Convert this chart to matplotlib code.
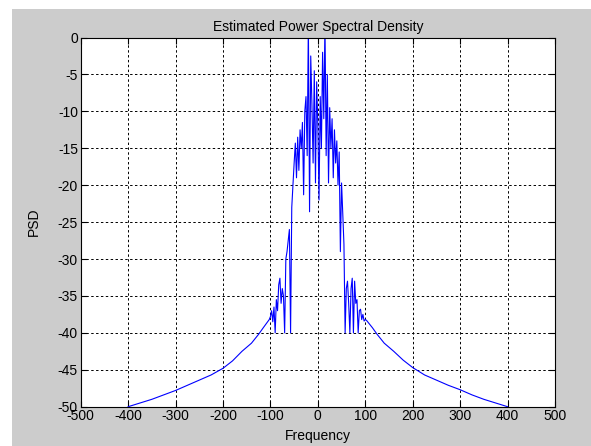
import numpy as np
import matplotlib.pyplot as plt
from matplotlib.patches import Rectangle

# Tail of the spectrum (smooth part)
tail_left_f = [-400, -375, -350, -325, -300, -275, -250, -225, -200, -180, -160, -140, -125, -115, -102.5]
tail_left_p = [-50.0, -49.5, -49.0, -48.4, -47.8, -47.1, -46.4, -45.7, -44.8, -43.8, -42.5, -41.4,
               -40.2, -39.3, -38.2]
tail_right_f = [102.5, 115, 125, 140, 160, 180, 200, 225, 250, 275, 300, 325, 350, 375, 400]
tail_right_p = [-38.3, -39.3, -40.2, -41.4, -42.5, -43.7, -44.7, -45.7, -46.4, -47.1, -47.7, -48.4,
                -49.0, -49.5, -50.0]

# Spiky central part, step 2.5 Hz from -100 to 100
center_f = np.arange(-100, 100.1, 2.5)
center_p = [
    -37.8, -37.0, -38.5, -36.5, -40.0, -35.5, -37.0, -33.5, -32.6, -36.0,  # -100 .. -77.5
    -34.0, -35.0, -40.0, -30.0, -29.0, -27.5, -26.0, -40.0, -23.0, -20.0,  # -75 .. -52.5
    -17.0, -14.3, -19.0, -13.5, -18.0, -12.5, -15.0, -11.5, -21.3, -10.0,  # -50 .. -27.5
    -8.0, -16.0, 2.0, -23.6, -2.5, -9.0, -17.0, -4.5, -19.7, -6.0,         # -25 .. -2.5
    -12.0,                                                                 # 0
    -22.0, -8.0, -15.0, -2.0, -11.0, 2.0, -16.0, -5.0, -19.7, -9.5,        # 2.5 .. 25
    -15.0, -11.0, -19.0, -12.5, -17.0, -14.0, -20.0, -15.5, -29.0, -19.7,  # 27.5 .. 50
    -23.8, -28.0, -40.0, -34.0, -33.0, -36.0, -40.0, -34.0, -32.6, -40.0,  # 52.5 .. 75
    -33.0, -36.0, -35.5, -40.0, -37.0, -36.8, -38.2, -37.5, -38.4, -38.2,  # 77.5 .. 100
]

freq = np.concatenate([tail_left_f, center_f, tail_right_f])
psd = np.concatenate([tail_left_p, center_p, tail_right_p])

plt.rcParams['font.family'] = ['Liberation Sans', 'DejaVu Sans']
plt.rcParams['axes.unicode_minus'] = False

fig = plt.figure(figsize=(5.91, 4.46), dpi=100, facecolor='white')
# grey window area (white strip at top and left like the screenshot)
fig.patches.append(Rectangle((12 / 591, 0), 1, 1 - 9 / 446, transform=fig.transFigure,
                             facecolor='#cccccc', edgecolor='none', zorder=-10))

ax = fig.add_axes([80.7 / 591, 1 - 406.7 / 446, (555 - 80.7) / 591, (406.7 - 37.5) / 446])
ax.set_facecolor('white')
ax.plot(freq, psd, color='#0000ff', lw=0.8)

ax.set_xlim(-500, 500)
ax.set_ylim(-50, 0)
ax.set_xticks(np.arange(-500, 501, 100))
ax.set_yticks(np.arange(-50, 1, 5))
ax.grid(True, color='black', linestyle=(0, (2.5, 2.5)), lw=0.7)
ax.tick_params(direction='in', length=4, top=True, right=True, labelsize=10, pad=2)
for s in ax.spines.values():
    s.set_linewidth(0.8)

ax.set_title('Estimated Power Spectral Density', fontsize=10, pad=5)
ax.set_xlabel('Frequency', fontsize=10, labelpad=4)
ax.set_ylabel('PSD', fontsize=10, labelpad=12)

plt.savefig('out.png', dpi=100, facecolor=fig.get_facecolor())
